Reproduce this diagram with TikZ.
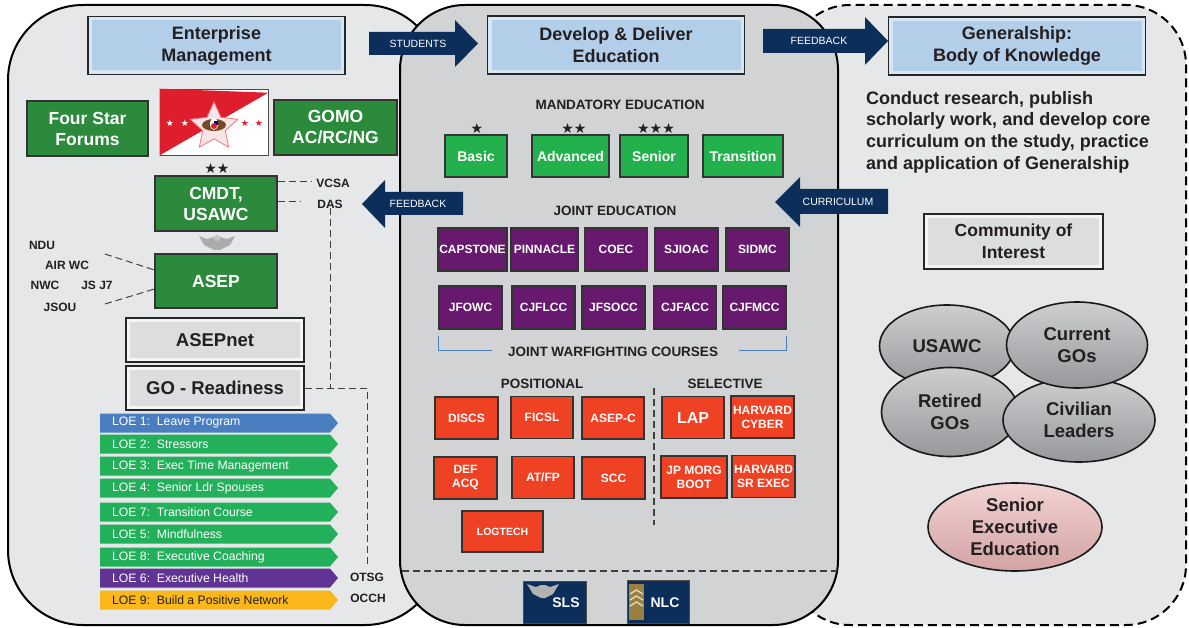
\documentclass[tikz,border=0pt]{standalone}
\usepackage{fontspec}
\setmainfont{Liberation Sans}
\newfontfamily\starfont{DejaVu Sans}
\usetikzlibrary{shapes.geometric,positioning}

\definecolor{leftbg}{RGB}{230,231,232}
\definecolor{midbg}{RGB}{209,211,212}
\definecolor{txtdark}{RGB}{35,31,32}
\definecolor{hdrlight}{RGB}{214,230,244}
\definecolor{hdrface}{RGB}{178,206,233}
\definecolor{graylight}{RGB}{245,245,245}
\definecolor{grayface}{RGB}{220,221,222}
\definecolor{dkgreen}{RGB}{44,138,60}
\definecolor{brgreen}{RGB}{34,177,76}
\definecolor{jpurple}{RGB}{103,25,110}
\definecolor{cred}{RGB}{239,65,35}
\definecolor{navy}{RGB}{12,46,91}
\definecolor{loeblue}{RGB}{74,126,193}
\definecolor{loegreen}{RGB}{34,177,90}
\definecolor{loepurple}{RGB}{96,51,148}
\definecolor{loeyellow}{RGB}{252,183,26}
\definecolor{flagred}{RGB}{222,30,45}
\definecolor{ellight}{RGB}{205,206,208}
\definecolor{elldark}{RGB}{150,152,155}
\definecolor{pinkell}{RGB}{234,181,181}
\definecolor{bracketblue}{RGB}{74,126,193}
\definecolor{gold}{RGB}{190,160,80}

\tikzset{
  panel/.style={draw=black, line width=2pt},
  hdrbox/.style={draw=black!85, line width=1.6pt, fill=hdrlight, inner sep=0,
    minimum width=257pt, minimum height=58pt, align=center, text=txtdark,
    font=\fontsize{18}{22}\selectfont\bfseries,
    path picture={\fill[hdrface] ([xshift=4pt,yshift=-4pt]path picture bounding box.north west)
      rectangle ([xshift=-4pt,yshift=4pt]path picture bounding box.south east);}},
  graybox/.style={draw=black!85, line width=1.8pt, fill=graylight, inner sep=0,
    minimum width=178pt, minimum height=44pt, align=center, text=txtdark,
    font=\fontsize{18.5}{22}\selectfont\bfseries,
    path picture={\fill[grayface] ([xshift=4pt,yshift=-4pt]path picture bounding box.north west)
      rectangle ([xshift=-4pt,yshift=4pt]path picture bounding box.south east);}},
  cmdbox/.style={draw=black!80, line width=1.2pt, fill=dkgreen, text=white, inner sep=0,
    align=center, font=\fontsize{17.5}{21}\selectfont\bfseries},
  mandbox/.style={draw=black!80, line width=1.2pt, fill=brgreen, text=white, inner sep=0,
    minimum height=42pt, font=\fontsize{14}{16}\selectfont\bfseries},
  jointbox/.style={draw=black!80, line width=1.2pt, fill=jpurple, text=white, inner sep=0,
    minimum width=63pt, minimum height=43pt, font=\fontsize{12}{14}\selectfont\bfseries},
  redbox/.style={draw=black!80, line width=1.2pt, fill=cred, text=white, inner sep=0,
    minimum width=63pt, minimum height=42pt, align=center, font=\fontsize{12}{14}\selectfont\bfseries},
  navybox/.style={draw=black!70, line width=1pt, fill=navy, inner sep=0,
    minimum width=63pt, minimum height=42pt},
  sectitle/.style={text=txtdark, inner sep=0, font=\fontsize{13.5}{16}\selectfont\bfseries},
  orglbl/.style={text=txtdark, inner sep=0, font=\fontsize{12}{14}\selectfont\bfseries},
  arrtxt/.style={text=white, inner sep=0, font=\fontsize{10.5}{12}\selectfont},
  loetxt/.style={inner sep=0, anchor=west, font=\fontsize{12.2}{14}\selectfont},
  starlbl/.style={text=txtdark, inner sep=0, font=\starfont\fontsize{14}{14}\selectfont},
  grayell/.style={ellipse, draw=black!90, line width=1.6pt, top color=ellight, bottom color=elldark,
    inner sep=0, align=center, text=txtdark, font=\fontsize{18.5}{22}\selectfont\bfseries},
  dashln/.style={draw=black!75, line width=1pt, dash pattern=on 7pt off 4pt},
}

\begin{document}
\begin{tikzpicture}[x=1pt,y=-1pt]
\useasboundingbox (0,0) rectangle (1189,628);

% Panels
\draw[panel, fill=leftbg, rounded corners=75pt] (8,5) rectangle (440,625);
\draw[panel, fill=leftbg, dash pattern=on 9pt off 5pt, rounded corners=60pt] (790,5) rectangle (1186,625);
\draw[panel, fill=midbg, rounded corners=65pt] (400,5) rectangle (838,625);

% Left panel: enterprise management
\node[hdrbox] (entmgmt) at (216.5,45.5) {Enterprise\\Management};
\node[cmdbox, minimum width=121pt, minimum height=55pt] (fourstar) at (87.5,128.5) {Four Star\\Forums};
\node[cmdbox, minimum width=123pt, minimum height=55pt] (gomo) at (335.5,127.5) {GOMO\\AC/RC/NG};

% Flag
\node[draw=black!70, line width=0.6pt, fill=white, minimum width=108pt, minimum height=66pt, inner sep=0] (flag) at (214,122) {};
\fill[flagred] (flag.north west) -- ([yshift=-4pt]flag.north east) -- (flag.south west) -- cycle;
\node[star, star points=5, star point ratio=2.1, fill=white!88!flagred, draw=flagred!60, line width=0.8pt, minimum size=50pt, inner sep=0] (flagstar) at (214,127) {};
\fill[brown!60!black] (214,125) ellipse (12pt and 6pt);
\fill[white] (214,124) ellipse (4pt and 6pt);
\fill[blue!60!black] (214,121) rectangle (217.5,125);
\fill[flagred] (214,126) ellipse (3pt and 3pt);
\foreach \sx in {170,185} {\node[text=white, inner sep=0, font=\starfont\fontsize{9}{9}\selectfont] at (\sx,123) {★};}
\foreach \sx in {245,259} {\node[text=flagred, inner sep=0, font=\starfont\fontsize{9}{9}\selectfont] at (\sx,123) {★};}

\node[starlbl] (cmdtstars) at (217,168) {★★};
\node[cmdbox, minimum width=122pt, minimum height=55pt] (cmdt) at (216,203.5) {CMDT,\\USAWC};
\node[orglbl] (vcsa) at (333,183) {VCSA};
\node[orglbl] (das) at (330,204) {DAS};
\coordinate (vcsaend) at (311,182);
\coordinate (dasend) at (300,202);
\draw[dashln] (cmdt.east |- vcsaend) -- (vcsaend);
\draw[dashln] (cmdt.east |- dasend) -- (dasend);

% Eagle insignia
\fill[gray!65] (199,236) -- (207,239) -- (214,237) -- (220,237) -- (227,239) -- (235,236) -- (230,245) -- (220,250) -- (214,250) -- (204,245) -- cycle;
\fill[gray!45] (217,238) circle (3pt);

\node[cmdbox, minimum width=122pt, minimum height=54pt] (asep) at (216,281) {ASEP};
\node[orglbl] (ndu) at (42,245) {NDU};
\node[orglbl] (airwc) at (67,265) {AIR WC};
\node[orglbl] (nwc) at (45,285) {NWC};
\node[orglbl] (jsj7) at (97,285) {JS J7};
\node[orglbl] (jsou) at (60,307) {JSOU};
\coordinate (airend) at (105,254);
\coordinate (jsouend) at (105,304);
\draw[dashln] (airend) -- ([yshift=11pt]asep.west);
\draw[dashln] (jsouend) -- ([yshift=-8pt]asep.west);

\node[graybox] (asepnet) at (215,340) {ASEPnet};
\node[graybox] (goready) at (215,388) {GO - Readiness};

% LOE arrows
\foreach \yy/\col/\tc/\txt [count=\i] in {
  423/loeblue/white/{LOE 1:\ \ Leave Program},
  444/loegreen/white/{LOE 2:\ \ Stressors},
  466/loegreen/white/{LOE 3:\ \ Exec Time Management},
  488/loegreen/white/{LOE 4:\ \ Senior Ldr Spouses},
  512/loegreen/white/{LOE 7:\ \ Transition Course},
  534/loegreen/white/{LOE 5:\ \ Mindfulness},
  557/loegreen/white/{LOE 8:\ \ Executive Coaching},
  578/loepurple/white/{LOE 6:\ \ Executive Health},
  600/loeyellow/txtdark/{LOE 9:\ \ Build a Positive Network}} {
  \fill[\col] (100,\yy-9.5) -- (330,\yy-9.5) -- (338,\yy) -- (330,\yy+9.5) -- (100,\yy+9.5) -- cycle;
  \node[loetxt, text=\tc] (loe\i) at (112,\yy) {\txt};
}
\node[orglbl] (otsg) at (367,577) {OTSG};
\node[orglbl] (occh) at (368,598) {OCCH};
\draw[dashln] (das.south) |- (goready.east);
\draw[dashln] (goready.east) -| ([yshift=6pt]otsg.north);

% Center panel: develop & deliver
\node[hdrbox] (develop) at (616,45) {Develop \& Deliver\\Education};
\node[sectitle] (mandtitle) at (620,105) {MANDATORY EDUCATION};
\node[mandbox, minimum width=62pt] (basic) at (476,156) {Basic};
\node[mandbox, minimum width=77pt] (advanced) at (570.5,156) {Advanced};
\node[mandbox, minimum width=68pt] (senior) at (654,156) {Senior};
\node[mandbox, minimum width=80pt] (transition) at (743,156) {Transition};
\node[starlbl] (basicstar) at (477,128) {★};
\node[starlbl] (advstar) at (574,128) {★★};
\node[starlbl] (senstar) at (656,128) {★★★};

\node[sectitle] (jointtitle) at (615,211) {JOINT EDUCATION};
\node[jointbox, minimum width=69pt] (capstone) at (472.5,249.5) {CAPSTONE};
\node[jointbox, minimum width=67pt] (pinnacle) at (544.5,249.5) {PINNACLE};
\node[jointbox] (coec) at (616,249.5) {COEC};
\node[jointbox] (sjioac) at (686.5,249.5) {SJIOAC};
\node[jointbox] (sidmc) at (757.5,249.5) {SIDMC};
\node[jointbox] (jfowc) at (470.5,307.5) {JFOWC};
\node[jointbox] (cjflcc) at (543.5,307.5) {CJFLCC};
\node[jointbox] (jfsocc) at (613.5,307.5) {JFSOCC};
\node[jointbox] (cjfacc) at (685,307.5) {CJFACC};
\node[jointbox] (cjfmcc) at (754.5,307.5) {CJFMCC};

\node[sectitle] (jwctitle) at (613,352) {JOINT WARFIGHTING COURSES};
\coordinate (brleft) at (492,350);
\coordinate (brright) at (739,350);
\draw[bracketblue, line width=0.8pt] (jfowc.south west |- 0,336) -- (jfowc.south west |- brleft) -- (brleft);
\draw[bracketblue, line width=0.8pt] (brright) -- (cjfmcc.south east |- brright) -- (cjfmcc.south east |- 0,336);

\node[sectitle] (positional) at (542,384) {POSITIONAL};
\node[sectitle] (selective) at (725,384) {SELECTIVE};
\coordinate (septop) at (654,388);
\coordinate (sepbot) at (654,525);
\draw[dashln, line width=1.2pt] (septop) -- (sepbot);

\node[redbox] (discs) at (466.5,418) {DISCS};
\node[redbox, minimum width=62pt] (ficsl) at (542,417.5) {FICSL};
\node[redbox, minimum width=62pt] (asepc) at (613,418) {ASEP-C};
\node[redbox, minimum width=62pt, font=\fontsize{16}{18}\selectfont\bfseries] (lap) at (693,417.5) {LAP};
\node[redbox] (hcyber) at (762.5,417) {HARVARD\\CYBER};
\node[redbox] (defacq) at (465.5,478) {DEF\\ACQ};
\node[redbox, minimum width=62pt] (atfp) at (543,477.5) {AT/FP};
\node[redbox] (scc) at (613.5,478) {SCC};
\node[redbox, minimum width=66pt] (jpmorg) at (694,477) {JP MORG\\BOOT};
\node[redbox] (hsrexec) at (763.5,476.5) {HARVARD\\SR EXEC};
\node[redbox, minimum width=81pt, minimum height=41pt, font=\fontsize{10.5}{12}\selectfont\bfseries] (logtech) at (502.5,531.5) {LOGTECH};

\coordinate (schoolsl) at (402,571);
\coordinate (schoolsr) at (837,571);
\draw[dashln, line width=1.2pt] (schoolsl) -- (schoolsr);

\node[navybox] (sls) at (554.5,602) {};
\fill[gray!60] (527,584) -- (536,587) -- (541,585) -- (545,585) -- (550,587) -- (559,584) -- (553,594) -- (545,598) -- (541,598) -- (533,594) -- cycle;
\node[arrtxt, font=\fontsize{14}{16}\selectfont\bfseries] (slslbl) at (566,603) {SLS};
\node[navybox, minimum width=62pt, minimum height=43pt] (nlc) at (658,601.5) {};
\fill[gold!80!black] (629,584) rectangle (644,620);
\foreach \cy in {590,596,602} {\draw[gold!40, line width=1.4pt] (630,\cy+4) -- (636.5,\cy) -- (643,\cy+4);}
\node[arrtxt, font=\fontsize{14}{16}\selectfont\bfseries] (nlclbl) at (665,603) {NLC};

% Right panel: generalship
\node[hdrbox] (general) at (1017,46) {Generalship:\\Body of Knowledge};
\node[anchor=north west, inner sep=0, align=left, text=txtdark, font=\fontsize{18}{21.7}\selectfont\bfseries] (research) at (866,91)
  {Conduct research, publish\\scholarly work, and develop core\\curriculum on the study, practice\\and application of Generalship};
\node[graybox, minimum width=179pt, minimum height=55pt, font=\fontsize{17.5}{22}\selectfont\bfseries] (coi) at (1013.5,241.5) {Community of\\Interest};

\node[grayell, minimum width=135pt, minimum height=82pt] (usawc) at (947,346) {USAWC};
\node[grayell, minimum width=137pt, minimum height=89pt] (retired) at (950,412) {Retired\\GOs};
\node[grayell, minimum width=152pt, minimum height=84pt] (civilian) at (1079,420) {Civilian\\Leaders};
\node[grayell, minimum width=141pt, minimum height=86pt] (current) at (1077,345) {Current\\GOs};
\node[grayell, top color=pinkell!60, bottom color=pinkell!90!black, minimum width=174pt, minimum height=88pt] (seniorexec) at (1015,527) {Senior\\Executive\\Education};

% Flow arrows between panels
\fill[navy] (369,32) -- (455,32) -- (455,20) -- (478,43.5) -- (455,67) -- (455,55) -- (369,55) -- cycle;
\node[arrtxt] (students) at (418,43.5) {STUDENTS};
\fill[navy] (763,29) -- (865,29) -- (865,17) -- (888,41) -- (865,65) -- (865,53) -- (763,53) -- cycle;
\node[arrtxt] (feedbacktop) at (819,41) {FEEDBACK};
\fill[navy] (463,192) -- (385,192) -- (385,180) -- (362,204) -- (385,228) -- (385,215) -- (463,215) -- cycle;
\node[arrtxt] (feedbackleft) at (418,204) {FEEDBACK};
\fill[navy] (888,189) -- (800,189) -- (800,177) -- (775,202) -- (800,227) -- (800,214) -- (888,214) -- cycle;
\node[arrtxt] (curriculum) at (838,202) {CURRICULUM};
\end{tikzpicture}
\end{document}
